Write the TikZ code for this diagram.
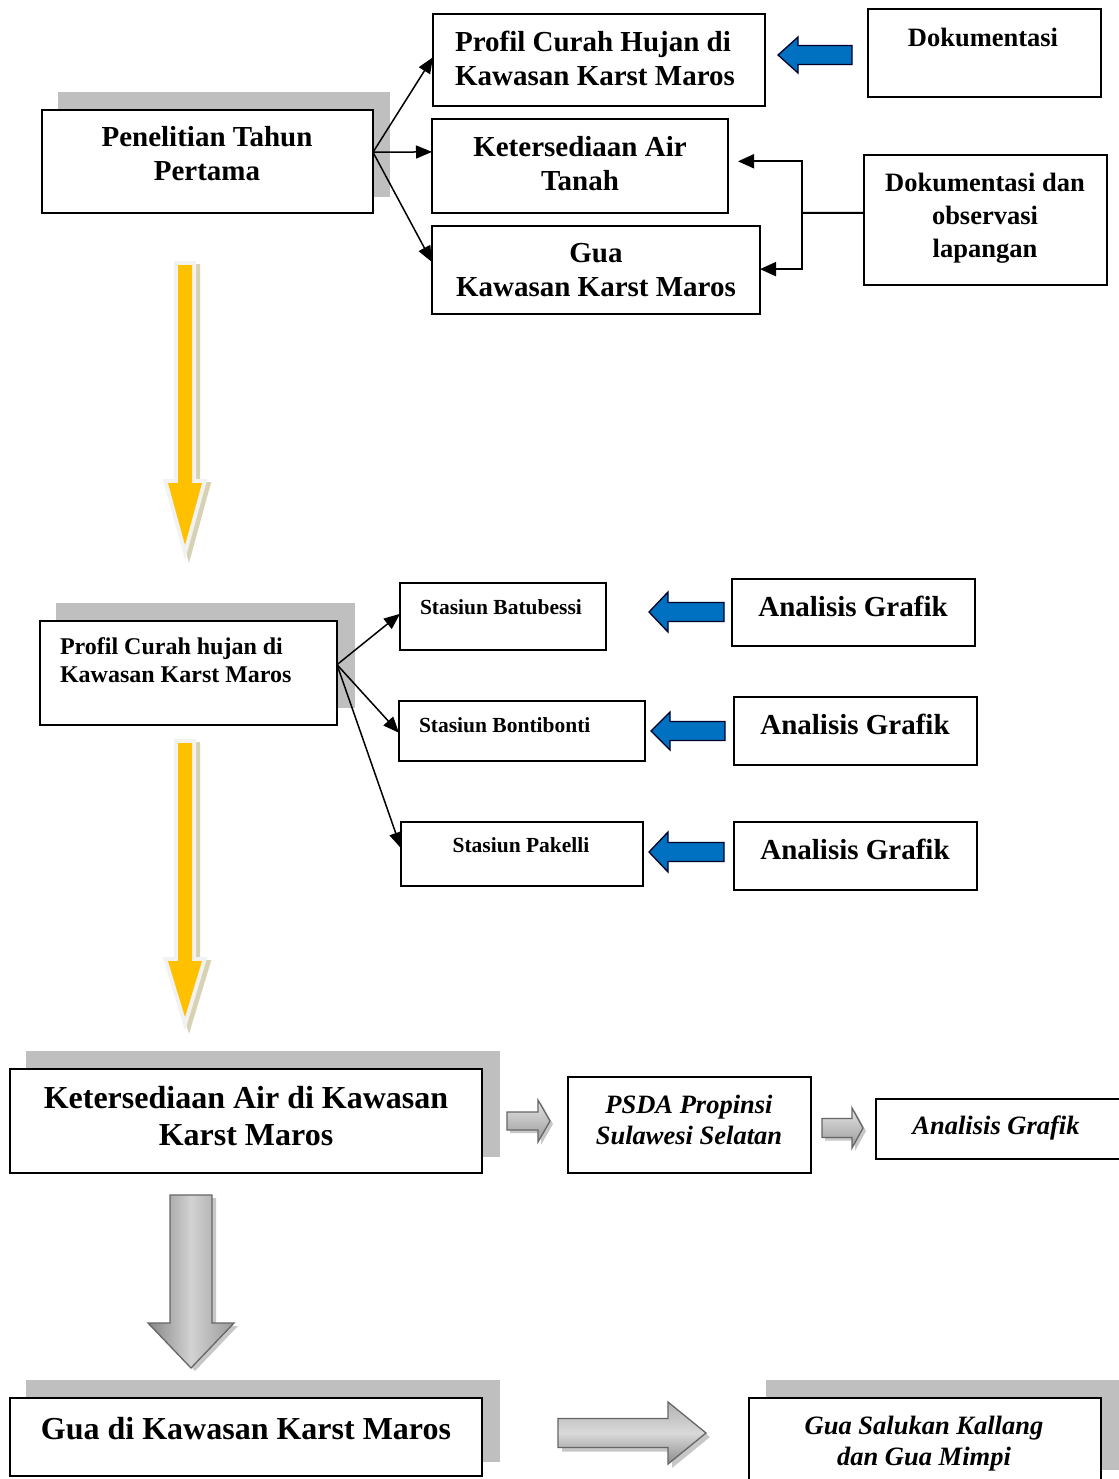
\documentclass[tikz,border=0pt]{standalone}
\usepackage{fontspec}
\setmainfont{Liberation Serif}
\usetikzlibrary{arrows.meta,calc}
\definecolor{shad}{HTML}{BFBFBF}
\definecolor{bluearr}{HTML}{0070C0}
\definecolor{yel}{HTML}{FFC000}
\definecolor{yelout}{HTML}{F2F2F2}
\definecolor{yelsh}{HTML}{D8D2B4}
% block arrow shapes
\newcommand{\leftarrowshape}[6]{(#1,#2) -- (#3,#2-#5) -- (#3,#2-#6) -- (#4,#2-#6) -- (#4,#2+#6) -- (#3,#2+#6) -- (#3,#2+#5) -- cycle}
\newcommand{\rightarrowshape}[6]{(#1,#2) -- (#3,#2-#5) -- (#3,#2-#6) -- (#4,#2-#6) -- (#4,#2+#6) -- (#3,#2+#6) -- (#3,#2+#5) -- cycle}
\newcommand{\downarrowshape}[6]{(#1-#6,#2) -- (#1+#6,#2) -- (#1+#6,#3) -- (#1+#5,#3) -- (#1,#4) -- (#1-#5,#3) -- (#1-#6,#3) -- cycle}
\begin{document}
\begin{tikzpicture}[x=1pt,y=-1pt,
  box/.style={draw=black, line width=1.8pt, fill=white, rectangle, inner sep=0pt, outer sep=0pt, anchor=north west},
  shadowbox/.style={fill=shad, draw=none},
  tx/.style={inner sep=0pt, outer sep=0pt, align=center},
  fA/.style={font=\fontsize{29}{34}\selectfont\bfseries},
  fB/.style={font=\fontsize{26.5}{33}\selectfont\bfseries},
  fC/.style={font=\fontsize{24}{28}\selectfont\bfseries},
  fS/.style={font=\fontsize{21.5}{26}\selectfont\bfseries},
  fD/.style={font=\fontsize{32}{37}\selectfont\bfseries},
  fI/.style={font=\fontsize{26.5}{31}\selectfont\bfseries\itshape},
  conn/.style={line width=1.5pt, -{Triangle[length=16pt,width=13pt]}},
  elbow/.style={line width=2pt, -{Triangle[length=16pt,width=14pt]}},
  bluearrow/.style={fill=bluearr, draw=black!85!blue, line width=1.3pt, line join=miter},
  grayarrowh/.style={top color=gray!20, bottom color=gray!80, draw=black!60, line width=1.3pt},
  grayarrowv/.style={left color=gray!95, right color=gray!80, middle color=gray!35, draw=black!60, line width=1.3pt},
  grayarrowr/.style={top color=gray!60, bottom color=gray!90, middle color=gray!30, draw=black!60, line width=1.3pt},
  graysh/.style={fill=black!22, draw=none},
]
\useasboundingbox (0,0) rectangle (1118,1479);
\fill[white] (0,0) rectangle (1118,1479);

% ---------------- shadows ----------------
\fill[shadowbox] (58,92) rectangle (390,197);
\fill[shadowbox] (56,603) rectangle (355,708);
\fill[shadowbox] (26,1051) rectangle (500,1157);
\fill[shadowbox] (26,1380) rectangle (500,1462);
\fill[shadowbox] (766,1380) rectangle (1125,1470);

% ---------------- section 1 ----------------
\node[box, minimum width=331pt, minimum height=103pt] (A) at (42,110) {};
\node[box, minimum width=332pt, minimum height=92pt] (B1) at (433,14) {};
\node[box, minimum width=296pt, minimum height=94pt] (B2) at (432,119) {};
\node[box, minimum width=328pt, minimum height=88pt] (B3) at (432,226) {};
\node[box, minimum width=233pt, minimum height=88pt] (Dok) at (868,9) {};
\node[box, minimum width=243pt, minimum height=130pt] (DO) at (864,155) {};

\node[tx, fA] (At) at (207,157) {\strut Penelitian Tahun\\\strut Pertama};
\node[tx, fA, align=left] (B1t) at (595,62) {\strut Profil Curah Hujan di\\\strut Kawasan Karst Maros};
\node[tx, fA] (B2t) at (580,167) {\strut Ketersediaan Air\\\strut Tanah};
\node[tx, fA] (B3t) at (596,273) {\strut Gua\\\strut Kawasan Karst Maros};
\node[tx, fB] (Dokt) at (983,40) {\strut Dokumentasi};
\node[tx, fB] (DOt) at (985,218) {\strut Dokumentasi dan\\\strut observasi\\\strut lapangan};

\coordinate (Aout) at ($(A.north east)!0.41!(A.south east)$);
\draw[conn] (Aout) -- ($(B1.north west)!0.47!(B1.south west)$);
\draw[conn] (Aout) -- ($(B2.north west)!0.35!(B2.south west)$);
\draw[conn] (Aout) -- ($(B3.north west)!0.41!(B3.south west)$);

\coordinate (jn) at (802,213);
\draw[line width=2pt] ($(DO.north west)!0.446!(DO.south west)$) -- (jn);
\draw[elbow] (jn) |- ($(B2.north east)!0.45!(B2.south east)+(10,0)$);
\draw[elbow] (jn) |- ($(B3.north east)!0.49!(B3.south east)$);

\draw[bluearrow] \leftarrowshape{778}{55}{798}{852}{18}{9.5};

% yellow arrow 1
\filldraw[yelsh, line width=8pt, miter limit=10, shift={(4,3)}] \downarrowshape{185}{265}{483}{545}{17}{7};
\filldraw[yelout, line width=8pt, miter limit=10] \downarrowshape{185}{265}{483}{545}{17}{7};
\fill[yel] \downarrowshape{185}{265}{483}{545}{17}{7};

% ---------------- section 2 ----------------
\node[box, minimum width=297pt, minimum height=104pt] (C) at (40,621) {};
\node[box, minimum width=206pt, minimum height=67pt] (S1) at (400,583) {};
\node[box, minimum width=246pt, minimum height=60pt] (S2) at (399,701) {};
\node[box, minimum width=242pt, minimum height=64pt] (S3) at (401,822) {};
\node[box, minimum width=243pt, minimum height=67pt] (G1) at (732,579) {};
\node[box, minimum width=243pt, minimum height=68pt] (G2) at (734,697) {};
\node[box, minimum width=243pt, minimum height=68pt] (G3) at (734,822) {};

\node[tx, fC, align=left, anchor=west] (Ct) at (60,663) {\strut Profil Curah hujan di\\\strut Kawasan Karst Maros};
\node[tx, fS, anchor=west] (S1t) at (420,609) {\strut Stasiun Batubessi};
\node[tx, fS, anchor=west] (S2t) at (419,727) {\strut Stasiun Bontibonti};
\node[tx, fS] (S3t) at (521,847) {\strut Stasiun Pakelli};
\node[tx, fA] (G1t) at (853,610) {\strut Analisis Grafik};
\node[tx, fA] (G2t) at (855,728) {\strut Analisis Grafik};
\node[tx, fA] (G3t) at (855,853) {\strut Analisis Grafik};

\coordinate (Cout) at ($(C.north east)!0.42!(C.south east)$);
\draw[conn] (Cout) -- ($(S1.north west)!0.46!(S1.south west)$);
\draw[conn] (Cout) -- ($(S2.north west)!0.53!(S2.south west)$);
\draw[conn] (Cout) -- ($(S3.north west)!0.41!(S3.south west)$);

\draw[bluearrow] \leftarrowshape{649}{612}{668}{724}{20}{9.5};
\draw[bluearrow] \leftarrowshape{651}{731}{670}{725}{19}{9.5};
\draw[bluearrow] \leftarrowshape{649}{852}{668}{724}{20}{9.5};

% yellow arrow 2
\filldraw[yelsh, line width=8pt, miter limit=10, shift={(4,3)}] \downarrowshape{185}{743}{961}{1017}{17}{7};
\filldraw[yelout, line width=8pt, miter limit=10] \downarrowshape{185}{743}{961}{1017}{17}{7};
\fill[yel] \downarrowshape{185}{743}{961}{1017}{17}{7};

% ---------------- section 3 ----------------
\node[box, minimum width=472pt, minimum height=104pt] (D) at (10,1069) {};
\node[box, minimum width=243pt, minimum height=96pt] (P) at (568,1077) {};
\node[box, minimum width=260pt, minimum height=60pt] (AG) at (876,1099) {};
\node[box, minimum width=472pt, minimum height=78pt] (E) at (10,1398) {};
\node[box, minimum width=352pt, minimum height=100pt] (F) at (749,1398) {};

\node[tx, fD] (Dt) at (246,1120) {\strut Ketersediaan Air di Kawasan\\\strut Karst Maros};
\node[tx, fI] (Pt) at (689,1123) {\strut PSDA Propinsi\\\strut Sulawesi Selatan};
\node[tx, fI] (AGt) at (996,1128) {\strut Analisis Grafik};
\node[tx, fD] (Et) at (246,1432) {\strut Gua di Kawasan Karst Maros};
\node[tx, fI] (Ft) at (924,1444) {\strut Gua Salukan Kallang\\\strut dan Gua Mimpi};

% gray block arrows
\fill[graysh, shift={(3,3)}] \rightarrowshape{550}{1121}{538}{507}{21}{9};
\draw[grayarrowh] \rightarrowshape{550}{1121}{538}{507}{21}{9};
\fill[graysh, shift={(3,3)}] \rightarrowshape{863}{1128}{852}{822}{20}{9.5};
\draw[grayarrowh] \rightarrowshape{863}{1128}{852}{822}{20}{9.5};

\fill[graysh, shift={(4,3)}] \downarrowshape{191}{1195}{1323}{1368}{43}{21};
\draw[grayarrowv] \downarrowshape{191}{1195}{1323}{1368}{43}{21};

\fill[graysh, shift={(4,4)}] \rightarrowshape{706}{1433}{668}{558}{31}{14.5};
\draw[grayarrowr] \rightarrowshape{706}{1433}{668}{558}{31}{14.5};
\end{tikzpicture}
\end{document}
